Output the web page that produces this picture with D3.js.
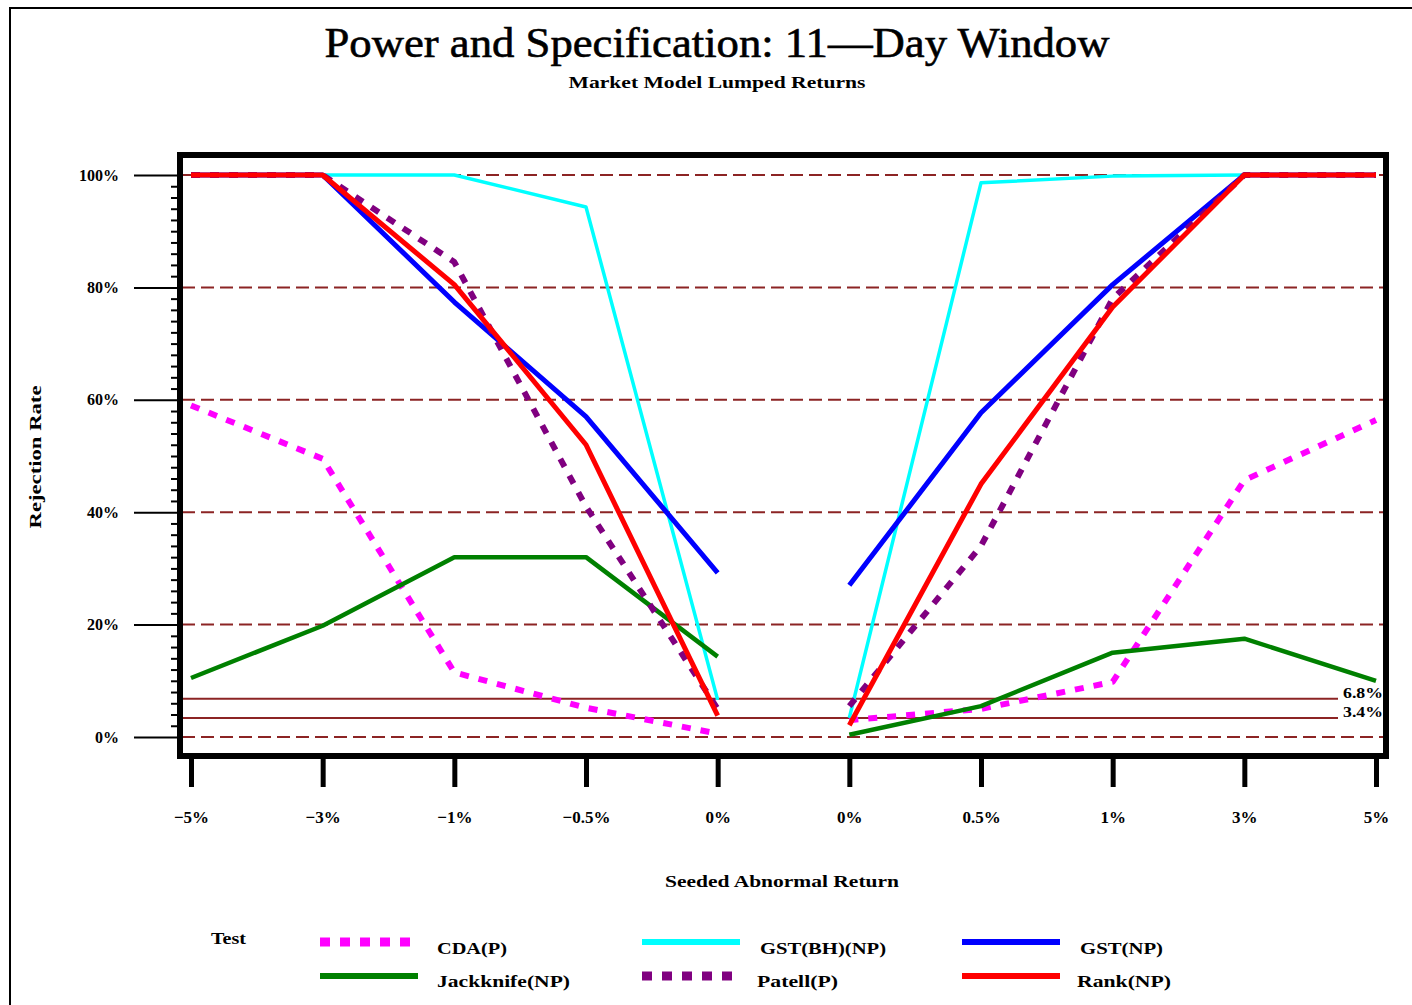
<!DOCTYPE html>
<html><head><meta charset="utf-8">
<script src="https://cdn.jsdelivr.net/npm/d3@7"></script>
<style>body{margin:0;background:#fff}svg{display:block}text{font-family:"Liberation Serif","DejaVu Serif",serif;fill:#000}</style>
</head><body>
<script>
const categories = ["\u22125%","\u22123%","\u22121%","\u22120.5%","0%","0%","0.5%","1%","3%","5%"];
const yTicks = [0,20,40,60,80,100];
const refLevels = [6.8, 3.4];
const refLabels = ["6.8%","3.4%"];
const seriesNames = ["CDA(P)","GST(BH)(NP)","GST(NP)","Jackknife(NP)","Patell(P)","Rank(NP)"];
const cda    = [59, 49.5, 11.5, 5.2, 0.6, 3.0, 5.0, 9.8, 45.7, 56.4];
const gstbh  = [100, 100, 100, 94.3, 6.6, 3.4, 98.6, 99.8, 100, 100];
const gst    = [100, 100, 77.4, 57, 29.2, 27, 57.7, 80.5, 100, 100];
const jack   = [10.5, 19.8, 32, 32, 14.3, 0.4, 5.5, 15, 17.5, 10];
const patell = [100, 100, 84.5, 41, 5, 5.5, 34, 78, 100, 100];
const rank   = [100, 100, 80.5, 52, 3.8, 2.1, 45, 76.5, 100, 100];

const W = 1412, H = 1005;
const svg = d3.select("body").append("svg").attr("width", W).attr("height", H);

// outer border
svg.append("path").attr("d", "M10,1005 V8 H1412").attr("fill","none").attr("stroke","#000").attr("stroke-width",2);

// titles
svg.append("text").attr("x",717).attr("y",57).attr("text-anchor","middle")
  .attr("font-size",42).attr("textLength",785).attr("lengthAdjust","spacingAndGlyphs")
  .attr("stroke","#000").attr("stroke-width",0.6)
  .text("Power and Specification: 11\u2014Day Window");
svg.append("text").attr("x",717).attr("y",88).attr("text-anchor","middle")
  .attr("font-size",17).attr("font-weight","bold").attr("textLength",297).attr("lengthAdjust","spacingAndGlyphs")
  .text("Market Model  Lumped Returns");

const x = d3.scalePoint().domain(d3.range(categories.length)).range([191, 1376]);
const y = d3.scaleLinear().domain([0,100]).range([737, 175]);
const frame = {x0:180, y0:155, x1:1386, y1:756};

// gridlines
const gridCol = "#8c2424";
svg.append("g").selectAll("line").data(yTicks).join("line")
  .attr("x1", frame.x0+2).attr("x2", frame.x1-2)
  .attr("y1", d=>y(d)).attr("y2", d=>y(d))
  .attr("stroke", gridCol).attr("stroke-width",2).attr("stroke-dasharray","13,6");
svg.append("g").selectAll("line").data(refLevels).join("line")
  .attr("x1", frame.x0+2).attr("x2", 1338)
  .attr("y1", d=>y(d)).attr("y2", d=>y(d))
  .attr("stroke", gridCol).attr("stroke-width",2);
svg.append("g").selectAll("text").data(refLevels).join("text")
  .attr("x", 1343).attr("y", d=>y(d)-1)
  .attr("font-size",15).attr("font-weight","bold").attr("textLength",40).attr("lengthAdjust","spacingAndGlyphs")
  .text((d,i)=>refLabels[i]);

// series
const series = [
  {name: seriesNames[0], values: cda,    color:"#ff00ff", width:6, dash:"9,10"},
  {name: seriesNames[1], values: gstbh,  color:"#00ffff", width:3.5, dash:null},
  {name: seriesNames[2], values: gst,    color:"#0000ff", width:5, dash:null},
  {name: seriesNames[3], values: jack,   color:"#008000", width:4.5, dash:null},
  {name: seriesNames[4], values: patell, color:"#800080", width:6, dash:"9,10"},
  {name: seriesNames[5], values: rank,   color:"#ff0000", width:5, dash:null}
];
const line = d3.line().x(d=>x(d.i)).y(d=>y(d.v));
const halves = [[0,1,2,3,4],[5,6,7,8,9]];
const gLines = svg.append("g");
series.forEach(s=>{
  halves.forEach(h=>{
    gLines.append("path").datum(h.map(i=>({i, v:s.values[i]})))
      .attr("d", line).attr("fill","none").attr("stroke", s.color)
      .attr("stroke-width", s.width).attr("stroke-dasharray", s.dash)
      .attr("stroke-linejoin","round");
  });
});

// frame
svg.append("rect").attr("x",frame.x0).attr("y",frame.y0).attr("width",frame.x1-frame.x0).attr("height",frame.y1-frame.y0)
  .attr("fill","none").attr("stroke","#000").attr("stroke-width",6);

// y axis
const yAxis = d3.axisLeft(y).tickValues(yTicks).tickSize(43).tickFormat(d=>d+"%");
const gy = svg.append("g").attr("transform",`translate(${frame.x0-3},0)`).call(yAxis);
gy.select(".domain").remove();
gy.selectAll(".tick line").attr("stroke","#000").attr("stroke-width",2);
gy.selectAll(".tick text").attr("font-size",16).attr("font-weight","bold").attr("font-family","Liberation Serif").attr("dx",-12);
const yMinor = d3.axisLeft(y).tickValues(d3.range(0,101,2).filter(v=>v%20)).tickSize(6).tickFormat("");
const gym = svg.append("g").attr("transform",`translate(${frame.x0-3},0)`).call(yMinor);
gym.select(".domain").remove();
gym.selectAll(".tick line").attr("stroke","#000").attr("stroke-width",2);

// x axis
const xAxis = d3.axisBottom(x).tickSize(28).tickFormat(i=>categories[i]);
const gx = svg.append("g").attr("transform",`translate(0,${frame.y1+3})`).call(xAxis);
gx.select(".domain").remove();
gx.selectAll(".tick line").attr("stroke","#000").attr("stroke-width",5);
gx.selectAll(".tick text").attr("font-size",17).attr("font-weight","bold").attr("font-family","Liberation Serif").attr("dy","1.95em");

// axis titles
svg.append("text").attr("transform","translate(41,457) rotate(-90)").attr("text-anchor","middle")
  .attr("font-size",17).attr("font-weight","bold").attr("textLength",143).attr("lengthAdjust","spacingAndGlyphs")
  .text("Rejection Rate");
svg.append("text").attr("x",782).attr("y",887).attr("text-anchor","middle")
  .attr("font-size",17).attr("font-weight","bold").attr("textLength",234).attr("lengthAdjust","spacingAndGlyphs")
  .text("Seeded Abnormal Return");

// legend
svg.append("text").attr("x",211).attr("y",944).attr("font-size",17).attr("font-weight","bold")
  .attr("textLength",35).attr("lengthAdjust","spacingAndGlyphs").text("Test");
const legPos = [
  {lx:320, tx:437, ly:942, ty:954, tl:70},
  {lx:642, tx:760, ly:942, ty:954, tl:126},
  {lx:962, tx:1080, ly:942, ty:954, tl:83},
  {lx:320, tx:437, ly:976, ty:987, tl:133},
  {lx:642, tx:757, ly:976, ty:987, tl:81},
  {lx:962, tx:1077, ly:976, ty:987, tl:94}
];
const gl = svg.append("g");
series.forEach((s,i)=>{
  const p = legPos[i];
  gl.append("line").attr("x1",p.lx).attr("x2",p.lx+(s.dash?90:98)).attr("y1",p.ly).attr("y2",p.ly)
    .attr("stroke",s.color).attr("stroke-width",s.dash?9:6).attr("stroke-dasharray",s.dash?"10,10":null);
  gl.append("text").attr("x",p.tx).attr("y",p.ty).attr("font-size",17).attr("font-weight","bold")
    .attr("textLength",p.tl).attr("lengthAdjust","spacingAndGlyphs").text(s.name);
});
</script>
</body></html>
